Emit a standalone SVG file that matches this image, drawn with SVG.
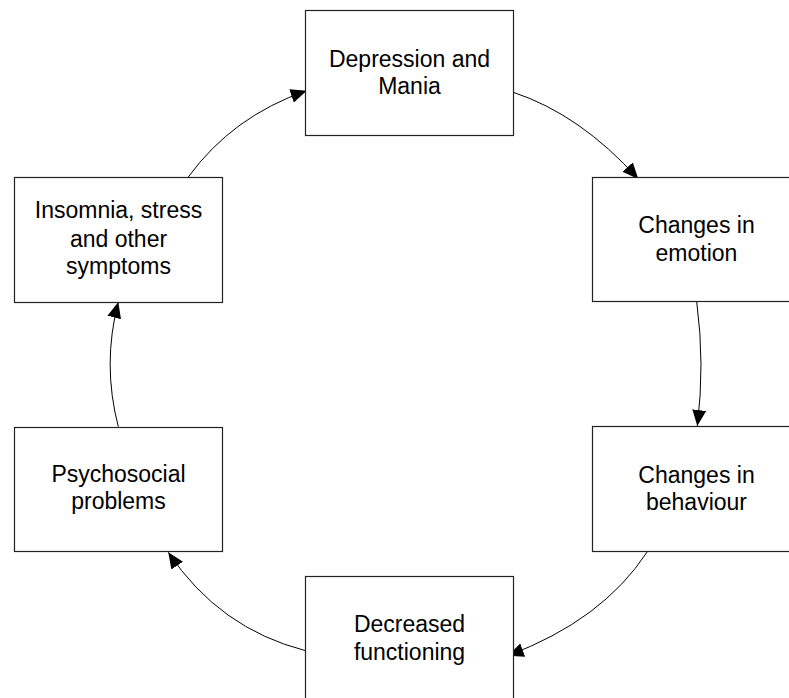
<svg xmlns="http://www.w3.org/2000/svg" width="789" height="698" viewBox="0 0 789 698">
<style>
.box{fill:#fff;stroke:#222;stroke-width:1.2}
.lbl{font-family:"Liberation Sans",Arial,sans-serif;font-size:23px;fill:#000;text-anchor:middle}
.con{fill:none;stroke:#000;stroke-width:1}
</style>
<defs>
<marker id="ah" markerUnits="userSpaceOnUse" markerWidth="18" markerHeight="15" refX="16" refY="7" orient="auto">
<path d="M0,0 L16,7 L0,14 z" fill="#000"/>
</marker>
</defs>
<rect width="789" height="698" fill="#fff"/>
<g id="connectors">
<path class="con" d="M188.3,177 Q232.5,116.3 306.7,90.7" marker-end="url(#ah)"/>
<path class="con" d="M513.3,92.3 Q580.2,114.4 638.3,179" marker-end="url(#ah)"/>
<path class="con" d="M696.7,301.7 Q705,364 697.3,426" marker-end="url(#ah)"/>
<path class="con" d="M647.3,551.7 Q602.5,620.3 507.7,655.7" marker-end="url(#ah)"/>
<path class="con" d="M305.7,650.7 Q219,628.5 168.3,552.3" marker-end="url(#ah)"/>
<path class="con" d="M118.3,426.7 Q102,364 118.3,302" marker-end="url(#ah)"/>
</g>
<g id="n1"><rect class="box" x="305.5" y="10.5" width="208" height="125"/>
<text class="lbl" x="409.5" y="66.7">Depression and</text><text class="lbl" x="409.5" y="94.3">Mania</text></g>
<g id="n2"><rect class="box" x="592.5" y="177.5" width="208" height="124"/>
<text class="lbl" x="696.5" y="232.7">Changes in</text><text class="lbl" x="696.5" y="261">emotion</text></g>
<g id="n3"><rect class="box" x="592.5" y="426.5" width="208" height="125"/>
<text class="lbl" x="696.5" y="482.7">Changes in</text><text class="lbl" x="696.5" y="510">behaviour</text></g>
<g id="n4"><rect class="box" x="305.5" y="576.5" width="208" height="125"/>
<text class="lbl" x="409.5" y="632.3">Decreased</text><text class="lbl" x="409.5" y="660">functioning</text></g>
<g id="n5"><rect class="box" x="14.5" y="427.5" width="208" height="124"/>
<text class="lbl" x="118.5" y="481.7">Psychosocial</text><text class="lbl" x="118.5" y="509.3">problems</text></g>
<g id="n6"><rect class="box" x="14.5" y="177.5" width="208" height="125"/>
<text class="lbl" x="118.5" y="218.3">Insomnia, stress</text><text class="lbl" x="118.5" y="246.7">and other</text><text class="lbl" x="118.5" y="274">symptoms</text></g>
</svg>
